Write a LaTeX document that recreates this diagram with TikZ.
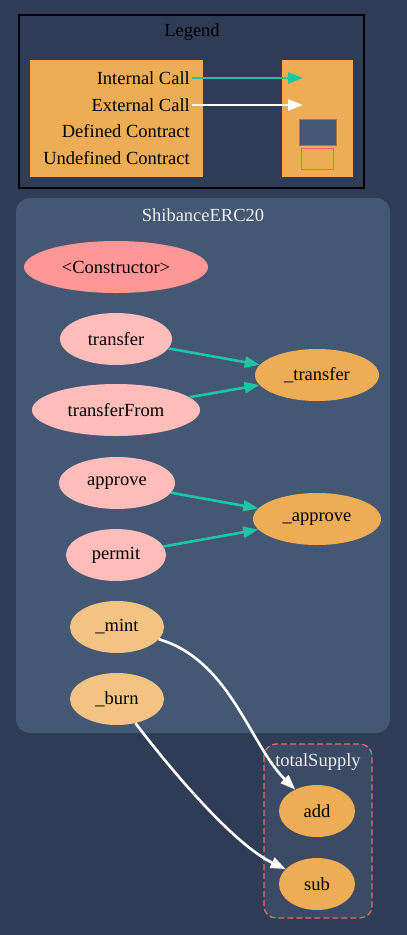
\documentclass[tikz,border=0pt]{standalone}
\usepackage{fontspec}
\setmainfont{Liberation Serif}
\usetikzlibrary{shapes.geometric,arrows.meta}
\definecolor{bgcol}{HTML}{2E3D55}
\definecolor{clustcol}{HTML}{445773}
\definecolor{subclust}{HTML}{3B4B65}
\definecolor{orangecol}{HTML}{EDAD56}
\definecolor{pinkcol}{HTML}{FFBDB9}
\definecolor{ctorcol}{HTML}{FF9797}
\definecolor{lightor}{HTML}{F2C383}
\definecolor{tealcol}{HTML}{1BC6A6}
\definecolor{redline}{HTML}{E56B6B}

\begin{document}
\begin{tikzpicture}[x=1pt, y=-1pt, every node/.style={font=\fontsize{18.5}{20}\selectfont},
  fn node/.style={ellipse, inner sep=0pt, minimum height=52pt},
  internal call/.style={draw=tealcol, line width=2.6pt, -{Triangle[length=15pt,width=11pt]}},
  external call/.style={draw=white, line width=2.6pt, -{Triangle[length=15pt,width=11pt]}}]
\fill[bgcol] (0,0) rectangle (407,935);
\useasboundingbox (0,0) rectangle (407,935);

% legend
\draw[black, line width=1.3pt, fill=bgcol] (19,15) rectangle (364,188);
\node (legend) at (192,32) {Legend};
\fill[orangecol] (30,60) rectangle (203,177);
\fill[orangecol] (282,60) rectangle (353,177);
\node[anchor=east, inner sep=2pt] (intl) at (192,78) {Internal Call};
\node[anchor=east, inner sep=2pt] (extl) at (192,105) {External Call};
\node[anchor=east, inner sep=2pt] (defl) at (192,131) {Defined Contract};
\node[anchor=east, inner sep=2pt] (undl) at (192,158) {Undefined Contract};
\coordinate (intr) at (303,78);
\coordinate (extr) at (303,105);
\draw[internal call] (intl.east) -- (intr);
\draw[external call] (extl.east) -- (extr);
\draw[orangecol!70!black, fill=clustcol, line width=0.4pt] (299,119) rectangle (336,145);
\draw[redline, line width=1pt, fill=orangecol] (301,148) rectangle (333,169);

% contract cluster
\fill[clustcol, rounded corners=14pt] (16,198) rectangle (390,733);
\node[text=white!93!black] (title) at (203,215) {ShibanceERC20};
\node[fn node, fill=ctorcol, minimum width=184pt] (ctor) at (116,267) {<Constructor>};
\node[fn node, fill=pinkcol, minimum width=112pt] (transfer) at (116,339) {transfer};
\node[fn node, fill=pinkcol, minimum width=168pt] (transferFrom) at (116,410) {transferFrom};
\node[fn node, fill=orangecol, minimum width=124pt] (itransfer) at (317,375) {\_transfer};
\node[fn node, fill=pinkcol, minimum width=116pt] (approve) at (117,483) {approve};
\node[fn node, fill=pinkcol, minimum width=100pt] (permit) at (116,555) {permit};
\node[fn node, fill=orangecol, minimum width=128pt] (iapprove) at (317,519) {\_approve};
\node[fn node, fill=lightor, minimum width=94pt] (mint) at (117,627) {\_mint};
\node[fn node, fill=lightor, minimum width=94pt] (burn) at (117,699) {\_burn};

% library cluster
\draw[redline, line width=1.3pt, dash pattern=on 6pt off 3pt, fill=subclust, rounded corners=12pt] (264,744) rectangle (372,918);
\node[text=white!93!black] (libtitle) at (318,762) {totalSupply};
\node[fn node, fill=orangecol, minimum width=76pt] (add) at (317,811) {add};
\node[fn node, fill=orangecol, minimum width=76pt] (sub) at (317,884) {sub};

\draw[internal call] (transfer) -- (itransfer);
\draw[internal call] (transferFrom) -- (itransfer);
\draw[internal call] (approve) -- (iapprove);
\draw[internal call] (permit) -- (iapprove);
\draw[external call] (mint) .. controls (230,660) and (250,745) .. (add);
\draw[external call] (burn) .. controls (175,775) and (235,845) .. (sub);
\end{tikzpicture}
\end{document}
